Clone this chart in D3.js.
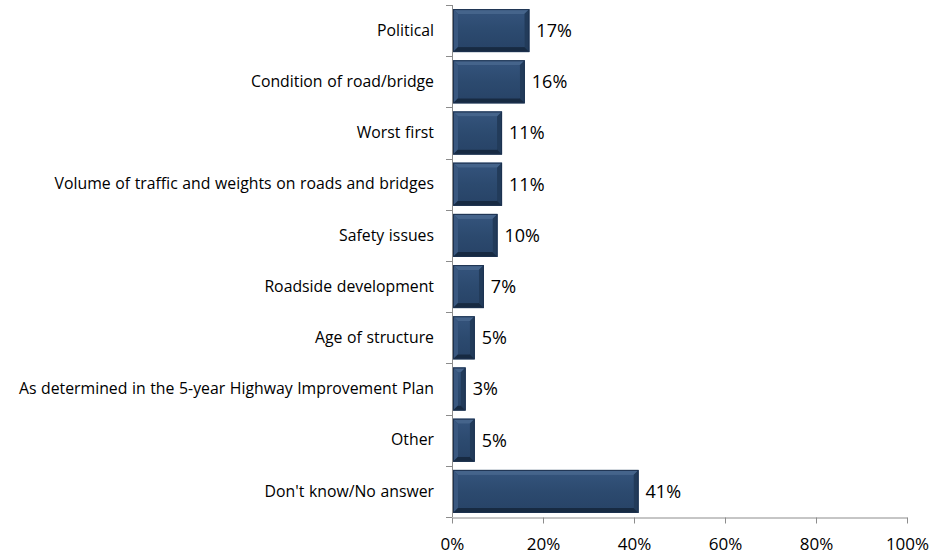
<!DOCTYPE html>
<html>
<head>
<meta charset="utf-8">
<script src="https://cdn.jsdelivr.net/npm/d3@7"></script>
<style>
  body { margin: 0; background: #fff; }
  svg { display: block; }
  text { font-family: "Open Sans", Lato, sans-serif; fill: #000; }
</style>
</head>
<body>
<svg id="chart" width="936" height="559"></svg>
<script>
// Reasons given for how road/bridge projects are prioritized
const categories = [
  "Political",
  "Condition of road/bridge",
  "Worst first",
  "Volume of traffic and weights on roads and bridges",
  "Safety issues",
  "Roadside development",
  "Age of structure",
  "As determined in the 5-year Highway Improvement Plan",
  "Other",
  "Don't know/No answer"
];
const values = [17, 16, 11, 11, 10, 7, 5, 3, 5, 41];
const xTicks = [0, 20, 40, 60, 80, 100];

const svg = d3.select("#chart");
const margin = { left: 452, right: 29, top: 5, bottom: 42 };
const W = 936, H = 559;

const x = d3.scaleLinear().domain([0, 100]).range([margin.left, W - margin.right]);
const y = d3.scaleBand().domain(categories).range([margin.top, H - margin.bottom]).paddingInner(0.16).paddingOuter(0.08);

const axisColor = "#8c8c8c";

// Gradient for the bar face
const defs = svg.append("defs");
const face = defs.append("linearGradient").attr("id", "face").attr("x1", 0).attr("y1", 0).attr("x2", 0).attr("y2", 1);
[[0, "#33527a"], [0.5, "#2c4a6f"], [1, "#284468"]].forEach(s =>
  face.append("stop").attr("offset", s[0]).attr("stop-color", s[1]));

const bw = 5; // bevel width
const bars = svg.append("g").selectAll("g.bar")
  .data(categories.map((c, i) => ({ c, v: values[i] })))
  .join("g").attr("class", "bar");

bars.each(function (d) {
  const g = d3.select(this);
  const x0 = x(0) + 1, x1 = x(d.v), y0 = y(d.c), y1 = y0 + y.bandwidth();
  const b = Math.min(bw, (x1 - x0) / 2 - 0.5);
  g.append("rect").attr("x", x0).attr("y", y0).attr("width", x1 - x0).attr("height", y1 - y0)
    .attr("fill", "#2c4a6f");
  // bevelled edges
  g.append("path").attr("d", `M${x0},${y0}L${x1},${y0}L${x1 - b},${y0 + b}L${x0 + b},${y0 + b}Z`).attr("fill", "#45648b");
  g.append("path").attr("d", `M${x0},${y0}L${x0 + b},${y0 + b}L${x0 + b},${y1 - b}L${x0},${y1}Z`).attr("fill", "#3a5880");
  g.append("path").attr("d", `M${x1},${y0}L${x1},${y1}L${x1 - b},${y1 - b}L${x1 - b},${y0 + b}Z`).attr("fill", "#223b5a");
  g.append("path").attr("d", `M${x0},${y1}L${x1},${y1}L${x1 - b},${y1 - b}L${x0 + b},${y1 - b}Z`).attr("fill", "#172a42");
  // inner face
  g.append("rect").attr("x", x0 + b).attr("y", y0 + b).attr("width", Math.max(0, x1 - x0 - 2 * b)).attr("height", y1 - y0 - 2 * b)
    .attr("fill", "url(#face)");
  // outline
  g.append("rect").attr("x", x0 + 0.5).attr("y", y0 + 0.5).attr("width", x1 - x0 - 1).attr("height", y1 - y0 - 1)
    .attr("fill", "none").attr("stroke", "#1d3250").attr("stroke-width", 1);
  // value label
  g.append("text").attr("x", x1 + 7).attr("y", (y0 + y1) / 2).attr("dy", "0.36em")
    .attr("font-size", 18).text(d.v + "%");
});

// y axis: vertical line with ticks at category boundaries
const yAxis = svg.append("g");
yAxis.append("line").attr("x1", x(0) + 0.5).attr("x2", x(0) + 0.5)
  .attr("y1", margin.top).attr("y2", H - margin.bottom).attr("stroke", axisColor);
const bounds = d3.range(categories.length + 1).map(i => margin.top + i * (H - margin.bottom - margin.top) / categories.length);
yAxis.selectAll("line.tk").data(bounds).join("line").attr("class", "tk")
  .attr("x1", x(0) - 6).attr("x2", x(0)).attr("y1", d => Math.round(d) + 0.5).attr("y2", d => Math.round(d) + 0.5)
  .attr("stroke", axisColor);
yAxis.selectAll("text").data(categories).join("text")
  .attr("x", x(0) - 18).attr("y", d => y(d) + y.bandwidth() / 2).attr("dy", "0.33em")
  .attr("text-anchor", "end").attr("font-size", 15.8).attr("word-spacing", 0.5).text(d => d);

// x axis
const xAxis = svg.append("g").attr("transform", `translate(0,${H - margin.bottom + 0.5})`)
  .call(d3.axisBottom(x).tickValues(xTicks).tickFormat(d => d + "%").tickSizeInner(6).tickSizeOuter(0).tickPadding(14));
xAxis.select(".domain").attr("stroke", axisColor);
xAxis.selectAll(".tick line").attr("stroke", axisColor);
xAxis.selectAll(".tick text").attr("font-size", 17).attr("font-family", "'Open Sans', Lato, sans-serif").attr("fill", "#000");
</script>
</body>
</html>
